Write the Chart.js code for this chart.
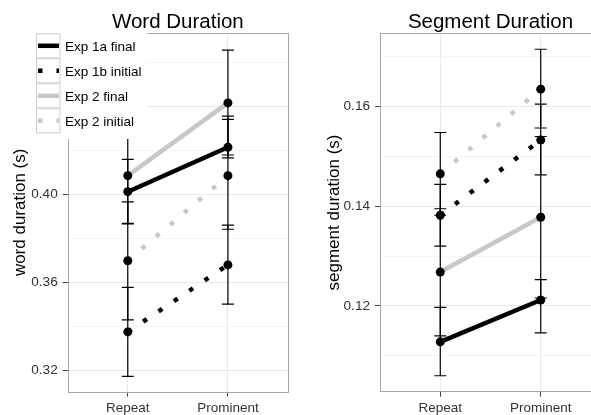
<!DOCTYPE html>
<html>
<head>
<meta charset="utf-8">
<script src="https://cdn.jsdelivr.net/npm/chart.js@4.4.1/dist/chart.umd.min.js"></script>
<style>
html,body{margin:0;padding:0;background:#fff;overflow:hidden;width:591px;height:415px}
#wrap{position:relative;width:591px;height:415px;overflow:hidden}
#wordChart{position:absolute;left:0;top:0}
#segChart{position:absolute;left:300px;top:0}
</style>
</head>
<body>
<div id="wrap">
<canvas id="wordChart" width="300" height="415"></canvas>
<canvas id="segChart" width="310" height="415"></canvas>
</div>
<script>
const categories=['Repeat','Prominent'];
const seriesNames=['Exp 1a final','Exp 1b initial','Exp 2 final','Exp 2 initial'];
const seriesColors=['#000000','#000000','#c8c8c8','#c8c8c8'];
const seriesDashed=[false,true,false,true];

// word duration (s), [Repeat, Prominent]
const word1aFinal=[0.4012,0.4214];
const word1bInitial=[0.3374,0.3679];
const word2Final=[0.4085,0.4416];
const word2Initial=[0.3698,0.4085];
// error bar ends
const word1aFinalLo=[0.3868,0.4166], word1aFinalHi=[0.4159,0.4341];
const word1bInitialLo=[0.3172,0.3500], word1bInitialHi=[0.3577,0.3860];
const word2FinalLo=[0.3865,0.4179], word2FinalHi=[0.4305,0.4656];
const word2InitialLo=[0.3429,0.3841], word2InitialHi=[0.3966,0.4356];
const wordMajorTicks=[0.32,0.36,0.40,0.44];
const wordMinorTicks=[0.34,0.38,0.42,0.46];

// segment duration (s), [Repeat, Prominent]
const seg1aFinal=[0.1128,0.1212];
const seg1bInitial=[0.1382,0.1533];
const seg2Final=[0.1268,0.1378];
const seg2Initial=[0.1465,0.1635];
const seg1aFinalLo=[0.1060,0.1146], seg1aFinalHi=[0.1197,0.1253];
const seg1bInitialLo=[0.1320,0.1463], seg1bInitialHi=[0.1444,0.1605];
const seg2FinalLo=[0.1140,0.1216], seg2FinalHi=[0.1395,0.1540];
const seg2InitialLo=[0.1382,0.1557], seg2InitialHi=[0.1548,0.1715];
const segMajorTicks=[0.12,0.14,0.16];
const segMinorTicks=[0.11,0.13,0.15,0.17];

Chart.defaults.font.family="'Liberation Sans', Arial, sans-serif";
Chart.defaults.devicePixelRatio=1;

const DASH=[4.5,14];

function buildDatasets(means,lows,highs){
  const sets=[];
  means.forEach((m,i)=>{
    const pts=m.map((v,j)=>({x:j,y:v}));
    sets.push({data:pts,borderColor:seriesColors[i],borderWidth:4.5,
      borderDash:seriesDashed[i]?DASH:[],borderCapStyle:'butt',pointRadius:0,order:1});
    sets.push({data:pts,showLine:false,pointRadius:4.5,pointBackgroundColor:'#000',
      pointBorderWidth:0,order:0});
    const eb=[];
    lows[i].forEach((lo,j)=>{
      eb.push({x:j,y:lo},{x:j,y:highs[i][j]});
      if(j<lows[i].length-1) eb.push({x:j+0.5,y:null});
    });
    sets.push({data:eb,borderColor:'#000',borderWidth:1.2,spanGaps:false,pointStyle:'line',
      pointRadius:6,pointBorderColor:'#000',pointBorderWidth:1.2,order:2});
  });
  return sets;
}

const panelPlugin={
  id:'panel',
  afterDatasetsDraw(chart){
    const {ctx,chartArea:a}=chart;
    ctx.save();
    ctx.strokeStyle='#a6a6a6';ctx.lineWidth=1;
    ctx.strokeRect(Math.round(a.left)+0.5,Math.round(a.top)+0.5,Math.round(a.right-a.left),Math.round(a.bottom-a.top));
    ctx.restore();
  },
  afterDraw(chart,args,opts){
    const {ctx,chartArea:a}=chart;
    ctx.save();
    ctx.fillStyle='#000';ctx.font="20.5px 'Liberation Sans', Arial, sans-serif";
    ctx.textAlign='center';ctx.textBaseline='alphabetic';
    ctx.fillText(opts.title,(a.left+a.right)/2,28);
    ctx.restore();
  }
};

const legendPlugin={
  id:'keyLegend',
  afterDraw(chart){
    const ctx=chart.ctx;
    ctx.save();
    ctx.fillStyle='#fff';
    ctx.fillRect(31,29,116,110);
    const kx=36,kw=24.5,ky=33.3,kh=25;
    seriesNames.forEach((name,i)=>{
      const y=ky+i*kh;
      ctx.fillStyle='#fff';ctx.fillRect(kx,y,kw,kh);
      ctx.strokeStyle='#cccccc';ctx.lineWidth=1;ctx.setLineDash([]);
      ctx.strokeRect(kx+0.5,y+0.5,kw-1,kh-1);
      ctx.strokeStyle=seriesColors[i];ctx.lineWidth=4.5;ctx.lineCap='butt';
      ctx.setLineDash(seriesDashed[i]?DASH:[]);
      ctx.beginPath();ctx.moveTo(38,y+kh/2);ctx.lineTo(59,y+kh/2);ctx.stroke();
      ctx.setLineDash([]);
      ctx.fillStyle='#000';ctx.font="13.5px 'Liberation Sans', Arial, sans-serif";
      ctx.textAlign='left';ctx.textBaseline='alphabetic';
      ctx.fillText(name,65,y+kh/2+4.9);
    });
    ctx.restore();
  }
};

function makeChart(id,title,yLabel,datasets,yMin,yMax,majors,minors,axisW,titlePad,padTop,padRight){
  const yTicks=majors.map(v=>({value:v,minor:false})).concat(minors.map(v=>({value:v,minor:true})))
    .sort((p,q)=>p.value-q.value);
  return new Chart(document.getElementById(id),{
    type:'line',
    data:{datasets},
    plugins:[panelPlugin].concat(id==='wordChart'?[legendPlugin]:[]),
    options:{
      responsive:false,animation:false,events:[],
      layout:{padding:{top:padTop,right:padRight,left:0,bottom:0}},
      plugins:{legend:{display:false},tooltip:{enabled:false},panel:{title}},
      scales:{
        x:{type:'linear',min:-0.6,max:1.6,
          afterBuildTicks:s=>{s.ticks=categories.map((c,i)=>({value:i}));},
          afterFit:s=>{s.height=23.3;},
          ticks:{callback:v=>categories[v],color:'#333',font:{size:13.5},padding:3,autoSkip:false,maxRotation:0},
          grid:{color:'#e8e8e8',tickColor:'#444',tickLength:5,lineWidth:1},
          border:{display:false}},
        y:{type:'linear',min:yMin,max:yMax,
          afterBuildTicks:s=>{s.ticks=yTicks.map(t=>({value:t.value,minor:t.minor}));},
          afterFit:s=>{s.width=axisW;},
          ticks:{callback:(v,i,t)=>t[i].minor?'':v.toFixed(2),color:'#333',font:{size:13.6},padding:5,autoSkip:false},
          grid:{color:c=>c.tick&&c.tick.minor?'#f4f4f4':'#e8e8e8',
            tickColor:c=>c.tick&&c.tick.minor?'rgba(0,0,0,0)':'#444',tickLength:5},
          border:{display:false},
          title:{display:true,text:yLabel,color:'#000',font:{size:17},padding:{top:titlePad,bottom:0}}}
      }
    }
  });
}

makeChart('wordChart','Word Duration','word duration (s)',
  buildDatasets([word1aFinal,word1bInitial,word2Final,word2Initial],
    [word1aFinalLo,word1bInitialLo,word2FinalLo,word2InitialLo],
    [word1aFinalHi,word1bInitialHi,word2FinalHi,word2InitialHi]),
  0.3102,0.4734,wordMajorTicks,wordMinorTicks,67.7,10.5,33,12);

makeChart('segChart','Segment Duration','segment duration (s)',
  buildDatasets([seg1aFinal,seg1bInitial,seg2Final,seg2Initial],
    [seg1aFinalLo,seg1bInitialLo,seg2FinalLo,seg2InitialLo],
    [seg1aFinalHi,seg1bInitialHi,seg2FinalHi,seg2InitialHi]),
  0.1028,0.1747,segMajorTicks,segMinorTicks,80,24.5,33.3,9);
</script>
</body>
</html>
